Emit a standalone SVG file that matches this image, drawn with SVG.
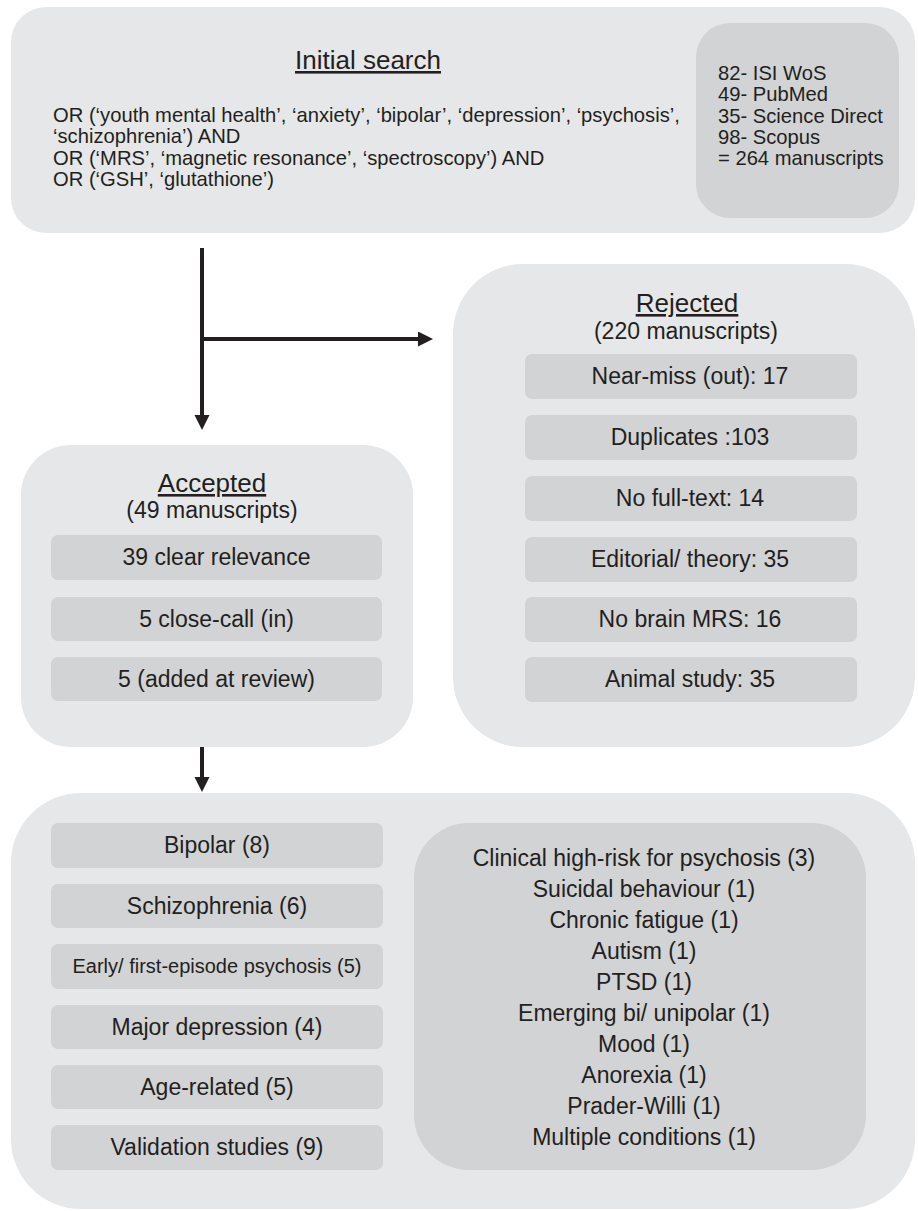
<svg xmlns="http://www.w3.org/2000/svg" width="918" height="1211" viewBox="0 0 918 1211">
<defs>
<style>
text{font-family:"Liberation Sans",Arial,Helvetica,sans-serif;fill:#231f20}
.outer{fill:#e6e7e8}
.inner{fill:#d1d3d4}
.title{font-size:26px;text-anchor:middle;text-decoration:underline}
.sub{font-size:23px;text-anchor:middle}
.item{font-size:23px;text-anchor:middle}
.body{font-size:20.2px}
.conn{stroke:#231f20;stroke-width:4;fill:none}
</style>
<marker id="ah" markerUnits="userSpaceOnUse" markerWidth="16" markerHeight="16" refX="1" refY="7.5" orient="auto">
<path d="M0,0 L15,7.5 L0,15 z" fill="#231f20"/>
</marker>
</defs>
<rect width="918" height="1211" fill="#ffffff"/>

<g id="initial-search">
<rect class="outer" x="11" y="7" width="904" height="226" rx="35" ry="35"/>
<text class="title" x="368" y="69">Initial search</text>
<text class="body" x="53" y="122">OR (‘youth mental health’, ‘anxiety’, ‘bipolar’, ‘depression’, ‘psychosis’,</text>
<text class="body" x="53" y="143.3">‘schizophrenia’) AND</text>
<text class="body" x="53" y="164.6">OR (‘MRS’, ‘magnetic resonance’, ‘spectroscopy’) AND</text>
<text class="body" x="53" y="186">OR (‘GSH’, ‘glutathione’)</text>
</g>

<g id="databases">
<rect class="inner" x="696" y="23" width="203" height="195" rx="34" ry="34"/>
<text class="body" x="718" y="80">82- ISI WoS</text>
<text class="body" x="718" y="101.3">49- PubMed</text>
<text class="body" x="718" y="122.6">35- Science Direct</text>
<text class="body" x="718" y="144">98- Scopus</text>
<text class="body" x="718" y="165.3">= 264 manuscripts</text>
</g>

<g id="rejected">
<rect class="outer" x="453" y="264" width="462" height="483" rx="70" ry="70"/>
<text class="title" x="687" y="312">Rejected</text>
<text class="sub" x="686" y="339">(220 manuscripts)</text>
<rect class="inner" x="525" y="354" width="332" height="45" rx="7"/>
<text class="item" x="690" y="384">Near-miss (out): 17</text>
<rect class="inner" x="525" y="415" width="332" height="45" rx="7"/>
<text class="item" x="690" y="445">Duplicates :103</text>
<rect class="inner" x="525" y="476" width="332" height="45" rx="7"/>
<text class="item" x="690" y="506">No full-text: 14</text>
<rect class="inner" x="525" y="537" width="332" height="45" rx="7"/>
<text class="item" x="690" y="567">Editorial/ theory: 35</text>
<rect class="inner" x="525" y="597" width="332" height="45" rx="7"/>
<text class="item" x="690" y="627">No brain MRS: 16</text>
<rect class="inner" x="525" y="657" width="332" height="45" rx="7"/>
<text class="item" x="690" y="687">Animal study: 35</text>
</g>

<g id="accepted">
<rect class="outer" x="21" y="445" width="392" height="302" rx="50" ry="50"/>
<text class="title" x="212" y="492">Accepted</text>
<text class="sub" x="212" y="518">(49 manuscripts)</text>
<rect class="inner" x="51" y="535" width="331" height="45" rx="7"/>
<text class="item" x="216.5" y="565">39 clear relevance</text>
<rect class="inner" x="51" y="597" width="331" height="44" rx="7"/>
<text class="item" x="216.5" y="627">5 close-call (in)</text>
<rect class="inner" x="51" y="657" width="331" height="44" rx="7"/>
<text class="item" x="216.5" y="687">5 (added at review)</text>
</g>

<g id="categories">
<rect class="outer" x="11" y="793" width="904" height="416" rx="70" ry="70"/>
<rect class="inner" x="51" y="823" width="332" height="45" rx="7"/>
<text class="item" x="217" y="853">Bipolar (8)</text>
<rect class="inner" x="51" y="884" width="332" height="44" rx="7"/>
<text class="item" x="217" y="914">Schizophrenia (6)</text>
<rect class="inner" x="51" y="944" width="332" height="45" rx="7"/>
<text class="item" x="217" y="973" style="font-size:20px">Early/ first-episode psychosis (5)</text>
<rect class="inner" x="51" y="1005" width="332" height="44" rx="7"/>
<text class="item" x="217" y="1035">Major depression (4)</text>
<rect class="inner" x="51" y="1065" width="332" height="44" rx="7"/>
<text class="item" x="217" y="1095">Age-related (5)</text>
<rect class="inner" x="51" y="1125" width="332" height="45" rx="7"/>
<text class="item" x="217" y="1155">Validation studies (9)</text>
</g>

<g id="other-conditions">
<rect class="inner" x="414" y="823" width="452" height="347" rx="55" ry="55"/>
<text class="item" x="644" y="866">Clinical high-risk for psychosis (3)</text>
<text class="item" x="644" y="897">Suicidal behaviour (1)</text>
<text class="item" x="644" y="928">Chronic fatigue (1)</text>
<text class="item" x="644" y="959">Autism (1)</text>
<text class="item" x="644" y="990">PTSD (1)</text>
<text class="item" x="644" y="1021">Emerging bi/ unipolar (1)</text>
<text class="item" x="644" y="1052">Mood (1)</text>
<text class="item" x="644" y="1083">Anorexia (1)</text>
<text class="item" x="644" y="1114">Prader-Willi (1)</text>
<text class="item" x="644" y="1145">Multiple conditions (1)</text>
</g>

<g id="connectors">
<line class="conn" x1="202" y1="248" x2="202" y2="416" marker-end="url(#ah)"/>
<line class="conn" x1="202" y1="339" x2="419" y2="339" marker-end="url(#ah)"/>
<line class="conn" x1="202" y1="747" x2="202" y2="778" marker-end="url(#ah)"/>
</g>
</svg>
